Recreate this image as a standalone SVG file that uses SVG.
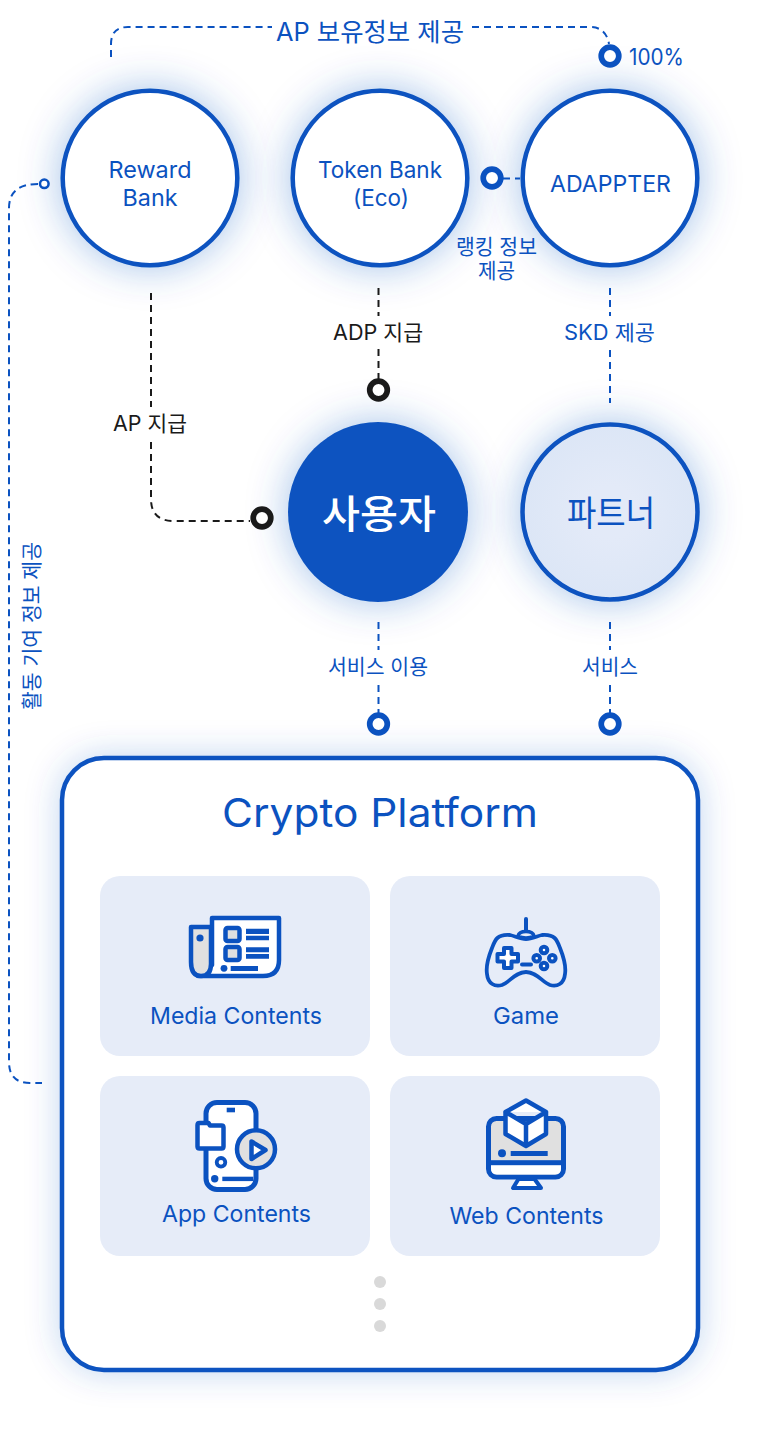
<svg xmlns="http://www.w3.org/2000/svg" width="760" height="1433" viewBox="0 0 760 1433">
<style>
text{font-family:"Inter","Noto Sans CJK KR","Noto Sans",sans-serif;fill:#0b52c0;text-anchor:middle}
.k{fill:#1a1a1a}
.s20{font-size:21px}.s22{font-size:23px}
.c{fill:#fff;stroke:#0b52c0;stroke-width:4.500}
.dash{fill:none;stroke:#0b52c0;stroke-width:2;stroke-dasharray:7 5}
.dk{stroke:#1a1a1a}
.ring{fill:#fff;stroke:#0b52c0;stroke-width:5.700}
.ringk{fill:#fff;stroke:#1a1a1a;stroke-width:5.700}
.card{fill:#e6ecf8}
.i{stroke:#0b52c0;stroke-width:4.500;stroke-linejoin:round;stroke-linecap:round}
.b{fill:#0b52c0}
.g{fill:#e0e0e0}.w{fill:#fff}.n{fill:none}
</style>
<defs>
<filter id="glow" x="-50%" y="-50%" width="200%" height="200%"><feDropShadow dx="0" dy="0" stdDeviation="20" flood-color="#0b52c0" flood-opacity="0.36"/></filter>
<filter id="glow2" x="-15%" y="-15%" width="130%" height="130%"><feDropShadow dx="0" dy="0" stdDeviation="17" flood-color="#0b52c0" flood-opacity="0.24"/></filter>
<radialGradient id="pf"><stop offset="0.3" stop-color="#e3eaf8"/><stop offset="1" stop-color="#dce6f6"/></radialGradient>
</defs>
<rect width="760" height="1433" fill="#fff"/>
<g id="node-reward"><circle class="c" cx="150" cy="178" r="87.300" filter="url(#glow)"/><text class="s22" x="150" y="178" textLength="83" lengthAdjust="spacingAndGlyphs">Reward</text><text class="s22" x="150" y="205.500" textLength="55" lengthAdjust="spacingAndGlyphs">Bank</text></g>
<g id="node-token"><circle class="c" cx="380" cy="178" r="87.300" filter="url(#glow)"/><text class="s22" x="380" y="178" textLength="124" lengthAdjust="spacingAndGlyphs">Token Bank</text><text class="s22" x="381" y="205.500" textLength="56" lengthAdjust="spacingAndGlyphs">(Eco)</text></g>
<g id="node-adappter"><circle class="c" cx="610" cy="178" r="87.300" filter="url(#glow)"/><text class="s22" x="610.500" y="191.500" textLength="121" lengthAdjust="spacingAndGlyphs">ADAPPTER</text></g>
<g id="node-user"><circle cx="378" cy="512" r="90" fill="#0b52c0" filter="url(#glow)"/><text x="379" y="527.500" font-size="39" font-weight="500" style="fill:#fff" textLength="114" lengthAdjust="spacingAndGlyphs">사용자</text></g>
<g id="node-partner"><circle cx="610" cy="512" r="87.500" fill="url(#pf)" stroke="#0b52c0" stroke-width="4.500" filter="url(#glow)"/><text x="611" y="526" font-size="35" textLength="88" lengthAdjust="spacingAndGlyphs">파트너</text></g>
<g id="node-platform">
<rect x="62" y="758" width="636" height="612" rx="42" class="c" filter="url(#glow2)"/>
<text x="380" y="827" font-size="40" textLength="316" lengthAdjust="spacingAndGlyphs">Crypto Platform</text>
<g id="node-media"><rect class="card" x="100" y="876" width="270" height="180" rx="20"/>
<path class="i w" d="M212 918H279V960Q279 976 263 976H198L212 965Z"/>
<path class="i g" d="M211 927H191V962Q191 976 201 976Q211 976 211 964Z"/>
<circle class="b" cx="200" cy="938" r="3.600"/>
<rect class="g" x="225.500" y="928" width="14" height="13" rx="2" stroke="#0b52c0" stroke-width="4.500"/>
<rect class="g" x="225.500" y="947" width="14" height="13" rx="2" stroke="#0b52c0" stroke-width="4.500"/>
<path class="b" d="M246 928.700h23v5.300h-23zM246 935.700h23v4.600h-23zM246 947.300h23v5h-23zM246 954h23v4.700h-23zM230.700 966h27.300v5h-27.300z"/>
<circle class="b" cx="224" cy="968.300" r="3.400"/>
<text class="s22" x="236" y="1024" textLength="172" lengthAdjust="spacingAndGlyphs">Media Contents</text></g>
<g id="node-game"><rect class="card" x="390" y="876" width="270" height="180" rx="20"/>
<path class="n i" style="stroke-width:4" d="M526 919V931"/>
<path class="n i" style="stroke-width:3.500" d="M518 936Q519 931.500 526 931.500Q533 931.500 534 936Q530 938 526 938Q522 938 518 936Z"/>
<path class="n i" style="stroke-width:3.800" d="M526 939C520 939 515 936 510 935C497 934 495 940 492 948C488 958 486 968 487 974C488 984 495 987 502 985C510 982 515 972 526 972C537 972 542 982 550 985C557 987 564 984 565 974C566 968 564 958 560 948C557 940 555 934 542 935C537 936 532 939 526 939Z"/>
<path class="w i" style="stroke-width:4" d="M504 948H511.500V954H518V961.500H511.500V968H504V961.500H497.500V954H504Z"/>
<path class="n i" style="stroke-width:4" d="M522 964.500H531"/>
<g class="w" stroke="#0b52c0" stroke-width="4"><circle cx="544" cy="950" r="3.300"/><circle cx="536.700" cy="958.300" r="3.300"/><circle cx="552.300" cy="958.300" r="3.300"/><circle cx="544" cy="966" r="3.300"/></g>
<text class="s22" x="526" y="1024" textLength="66" lengthAdjust="spacingAndGlyphs">Game</text></g>
<g id="node-app"><rect class="card" x="100" y="1076" width="270" height="180" rx="20"/>
<rect class="w" x="206" y="1102.500" width="50" height="87" rx="11" stroke="#0b52c0" stroke-width="5"/>
<rect class="b" x="226.700" y="1107.700" width="8.300" height="4.600"/>
<path class="w i" d="M197.500 1125Q197.500 1123 199.500 1123H208.500L210 1125.500H221.500Q223.500 1125.500 223.500 1127.500V1146.500Q223.500 1148.500 221.500 1148.500H199.500Q197.500 1148.500 197.500 1146.500Z"/>
<circle class="w" cx="221" cy="1162.300" r="4.300" stroke="#0b52c0" stroke-width="3.800"/>
<circle class="b" cx="214.700" cy="1178.700" r="3.700"/>
<rect class="b" x="222.300" y="1176.700" width="31" height="4.400"/>
<circle class="g" cx="256" cy="1149.300" r="19" stroke="#0b52c0" stroke-width="4.500"/>
<path class="w i" style="stroke-width:4.500" d="M251.500 1141.500V1159L265.500 1150Z"/>
<text class="s22" x="236.500" y="1222" textLength="149" lengthAdjust="spacingAndGlyphs">App Contents</text></g>
<g id="node-web"><rect class="card" x="390" y="1076" width="270" height="180" rx="20"/>
<path class="w i" style="stroke-width:4" d="M518.500 1179L513 1188H541L534.500 1179Z"/>
<rect class="g" x="488.500" y="1118.500" width="75" height="58.500" rx="8" stroke="#0b52c0" stroke-width="5"/>
<path class="w" d="M491 1165H561V1168Q561 1174.500 555 1174.500H497Q491 1174.500 491 1168Z"/>
<rect class="b" x="488.500" y="1160.200" width="75" height="5"/>
<path class="w i" style="stroke-width:4.500" d="M526 1100.500L546 1112V1134L526 1146L505.500 1134V1112ZM505.500 1112L526 1124L546 1112M526 1124V1146"/>
<circle class="b" cx="502" cy="1153.300" r="4"/>
<rect class="b" x="510.700" y="1151" width="37" height="5"/>
<text class="s22" x="526.500" y="1224" textLength="154" lengthAdjust="spacingAndGlyphs">Web Contents</text></g>
<g fill="#d9d9d9"><circle cx="380" cy="1282" r="6"/><circle cx="380" cy="1304" r="6"/><circle cx="380" cy="1326" r="6"/></g>
</g>
<g id="connectors">
<path class="dash" d="M111 57V44Q111 27 128 27H272"/>
<path class="dash" d="M472 27H590Q606 27 609 44"/>
<path class="dash" d="M38 184Q9 184 9 208V1062Q9 1083 30 1083H42"/>
<path class="dash" d="M503 178.500H520"/>
<path class="dash dk" d="M151 293V407M151 442V499Q151 521 174 521H250"/>
<path class="dash dk" d="M378.500 288V316M378.500 349V380"/>
<path class="dash" d="M610 288V316M610 350V403"/>
<path class="dash" d="M378.500 622V650M378.500 685V714"/>
<path class="dash" d="M610 622V650M610 685V714"/>
<circle class="ring" cx="610" cy="56" r="8.800"/>
<circle class="ring" cx="492" cy="178" r="8.800"/>
<circle class="ringk" cx="378.500" cy="390" r="8.800"/>
<circle class="ringk" cx="262" cy="518" r="8.800"/>
<circle class="ring" cx="378.500" cy="724" r="8.800"/>
<circle class="ring" cx="610" cy="724" r="8.800"/>
<circle cx="44.300" cy="183.800" r="4.300" fill="#fff" stroke="#0b52c0" stroke-width="2.500"/>
</g>
<g id="labels">
<text x="370" y="41" font-size="25" textLength="188" lengthAdjust="spacingAndGlyphs">AP 보유정보 제공</text>
<text class="s22" x="656.500" y="64.500" textLength="55" lengthAdjust="spacingAndGlyphs">100%</text>
<text class="s20" x="496.500" y="254" textLength="81" lengthAdjust="spacingAndGlyphs">랭킹 정보</text>
<text class="s20" x="496.500" y="278" textLength="37" lengthAdjust="spacingAndGlyphs">제공</text>
<text class="s20 k" x="378" y="340" textLength="90" lengthAdjust="spacingAndGlyphs">ADP 지급</text>
<text class="s20" x="609.500" y="340" textLength="91" lengthAdjust="spacingAndGlyphs">SKD 제공</text>
<text class="s20 k" x="150" y="431" textLength="74" lengthAdjust="spacingAndGlyphs">AP 지급</text>
<text class="s20" x="378" y="674" textLength="100" lengthAdjust="spacingAndGlyphs">서비스 이용</text>
<text class="s20" x="610" y="674" textLength="56" lengthAdjust="spacingAndGlyphs">서비스</text>
<text class="s20" transform="translate(39 626) rotate(-90)" textLength="168" lengthAdjust="spacingAndGlyphs">활동 기여 정보 제공</text>
</g>
</svg>
